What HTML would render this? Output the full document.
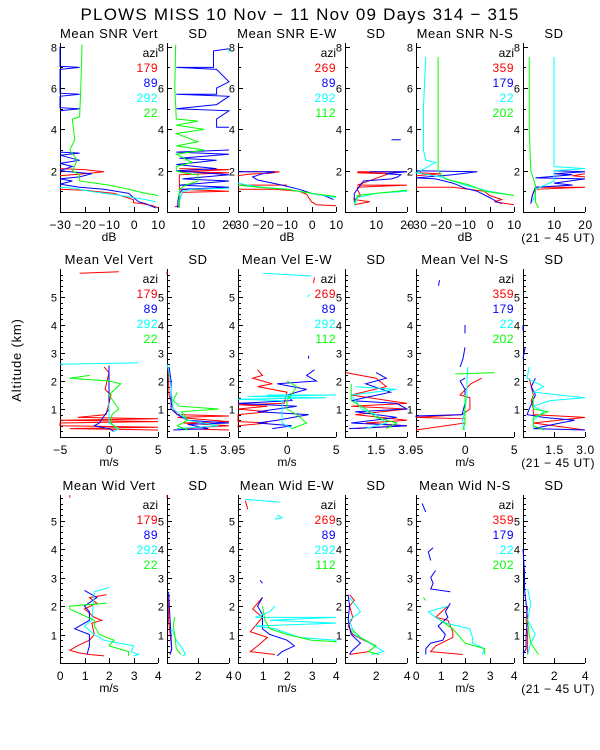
<!DOCTYPE html>
<html><head><meta charset="utf-8">
<style>
html,body{margin:0;padding:0;background:#fff;}
svg{display:block;font-family:"Liberation Sans",sans-serif;}
</style></head>
<body>
<svg id="chart" width="600" height="750" viewBox="0 0 600 750">
<text x="300" y="20" font-size="17" letter-spacing="1.2" text-anchor="middle">PLOWS MISS  10 Nov − 11 Nov 09 Days 314 − 315</text>
<text transform="translate(21,360) rotate(-90)" font-size="13" letter-spacing="0.8" text-anchor="middle">Altitude (km)</text>
</svg>
<script>
// ---- data: [altitude km, value]; null breaks a line ----
const colors = ["#ff0000","#0000ff","#00ffff","#00ff00"];
const legendVert = ["179","89","292","22"];
const legendEW = ["269","89","292","112"];
const legendNS = ["359","179","22","202"];
const meanTitles = [["Mean SNR Vert","Mean SNR E-W","Mean SNR N-S"],["Mean Vel Vert","Mean Vel E-W","Mean Vel N-S"],["Mean Wid Vert","Mean Wid E-W","Mean Wid N-S"]];
const meanTicks = [[-30,-20,-10,0,10],[-5,0,5],[0,1,2,3,4]];
const meanTickLabels = [["−30","−20","−10","0","10"],["−5","0","5"],["0","1","2","3","4"]];
const sdTicks = [[10,20],[1.5,3.0],[2,4]];
const sdTickLabels = [["10","20"],["1.5","3.0"],["2","4"]];
const yTicks = [[2,4,6,8],[1,2,3,4,5],[1,2,3,4,5]];
const units = ["dB","m/s","m/s"];

// Row 1 SNR
const snrV_r=[[2.1,-30],[2.05,-20],[1.95,-12],[1.85,-20],[1.75,-30],null,[1.1,-30],[1.05,-20],[0.9,-8],[0.6,0],[0.45,0],[0.4,4],[0.3,8],[0.2,10]];
const snrV_b=[[8,-30],[7.05,-30],[7.0,-22],[6.9,-30],[5.75,-30],[5.7,-22],[5.6,-30],[5.05,-30],[5.0,-22],[4.9,-30],null,[2.9,-30],[2.85,-22],[2.75,-30],[2.5,-22],[2.35,-30],[2.2,-25],[2.0,-30],[1.85,-17],[1.7,-22],[1.6,-30],[1.5,-25],[1.35,-30],[1.2,-22],[1.1,-12],[0.9,-2],[0.5,2],[0.4,5],[0.2,9]];
const snrV_c=[[1.2,-30],[1.15,-24],[1.0,-18],[0.8,-5],[0.6,5],[0.5,9]];
const snrV_g=[[8.1,-21],[6,-21.5],[4.6,-22],[4.5,-25],[3.5,-24],[3,-26],[2.5,-23],[2.0,-25],[1.8,-22],[1.5,-22],[1.3,-10],[1.1,-2],[0.9,5],[0.8,10]];
const sdV1_r=[[2.1,4],[2.05,20],[1.95,4],[1.9,20],[1.8,4],[1.1,4],[1.0,20],[0.95,5],[0.6,4],[0.3,4],[0.25,2.5]];
const sdV1_b=[[7.9,20],[7.8,15],[7.0,15],[7.0,3],[6.9,16],[6.3,20],[6.0,16],[5.7,16],[5.7,3],[5.6,20],[5.2,16],[5.0,3],[4.9,20],[4.5,16],[4.1,16],[4.1,20],null,[3.0,20],[2.9,3],[2.8,20],[2.6,4],[2.5,16],[2.3,3],[2.1,16],[2.0,3],[1.8,20],[1.6,5],[1.5,20],[1.3,4],[1.2,20],[1.1,5],[0.9,4],[0.5,3.5],[0.2,3.5]];
const sdV1_c=[[7.9,20],[7.7,20],null,[1.15,20],[1.1,8],[1.0,5],[0.5,4],[0.2,4]];
const sdV1_g=[[8.1,2.8],[6,2.5],[4.5,3],[4.4,10],[4.2,3],[4.0,12],[3.8,3],[3.4,10],[3.2,3],[3.0,12],[2.8,3],[2.4,8],[2.2,3],[2.0,3],[1.9,5],[1.8,10],[1.5,10],[1.3,6],[1.1,4],[0.8,4],[0.5,4],[0.2,4]];
const snrE_r=[[1.95,-30],[1.95,-13],[1.88,-17],[1.83,-26],[1.75,-30],null,[1.3,-30],[1.3,-10],null,[1.1,-30],[1.1,-15],[1.0,-5],[0.85,-2],[0.5,0],[0.35,2],[0.3,10]];
const snrE_b=[[1.95,-30],[1.95,-15],[1.85,-20],[1.7,-24],[1.55,-22],[1.3,-12],[1.1,-5],[0.9,0],[0.8,5],[0.6,9]];
const snrE_c=[[1.4,-30],[1.3,-26],[1.2,-20],[1.1,-10],[0.9,0],[0.8,5],[0.7,10]];
const snrE_g=[[1.3,-30],[1.2,-22],[1.1,-10],[0.9,0],[0.75,10]];
const sdE1_r=[[1.95,4],[1.95,20],[1.9,4],[1.85,14],[1.3,4],[1.3,20],[1.2,4],[1.1,4],[0.8,5],[0.6,3],[0.5,8],[0.35,3]];
const sdE1_b=[[3.5,15],[3.5,18],null,[1.95,8],[1.95,20],[1.85,13],[1.8,18],[1.7,17],[1.6,15],[1.5,6],[1.3,5],[1.1,4],[0.9,3],[0.5,3]];
const sdE1_c=[[1.0,20],[0.9,10],[0.7,4],[0.3,3]];
const sdE1_g=[[1.05,20],[0.9,10],[0.8,4],[0.4,3]];
const snrN_r=[[1.9,-30],[1.85,-20],[1.75,-30],null,[1.2,-30],[1.2,-15],[1.0,-2],[0.8,0],[0.6,5],[0.5,2],[0.35,10]];
const snrN_b=[[2.0,-30],[1.95,-5],[1.8,-15],[1.65,-30],[1.6,-22],[1.4,-15],[1.15,-10],[1.0,-5],[0.7,0],[0.5,3],[0.4,5]];
const snrN_c=[[7.5,-26],[5,-27],[3,-27],[2.5,-26],[2.4,-22],[2.0,-28],[1.9,-30],[1.7,-20],[1.3,-10],[1.0,0],[0.8,10]];
const snrN_g=[[7.5,-21],[2.0,-21],[1.6,-18],[1.3,-8],[1.0,-2],[0.8,10]];
const sdN1_r=[[1.85,20],[1.75,16],[1.7,20],null,[1.2,4],[1.2,20],[1.1,4],[0.8,3],[0.4,2.5]];
const sdN1_b=[[2.0,10],[1.95,20],[1.85,10],[1.8,16],[1.65,4],[1.6,20],[1.4,10],[1.3,16],[1.2,4],[0.8,3],[0.4,2.5]];
const sdN1_c=[[7.5,10],[3,10],[2.2,10],[2.1,20],[2.0,10],[1.5,10],[1.1,4],[0.9,4],[0.5,3]];
const sdN1_g=[[7.5,2],[4,2],[2.0,2.5],[1.3,4],[1.0,4],[0.5,4],[0.2,5]];
// Row 2 velocity
const velV_r=[[5.85,-3],[5.9,1],null,[2.5,-0.5],[2.3,0],[1.7,-0.4],[1.5,0.2],[0.8,-0.3],[0.7,-3.2],[0.65,5],[0.6,-5],[0.55,5],[0.5,-5],[0.4,-5],[0.35,5],[0.3,-4],[0.25,5]];
const velV_b=[[2.55,0],[1.5,0],[1.0,0],[0.5,-1],[0.4,-1.5],[0.3,0],[0.2,0.5]];
const velV_c=[[2.6,-5],[2.65,3],null,[1.2,0],[0.5,0],[0.3,1],[0.2,0.5]];
const velV_g=[[2.2,-2],[2.1,-4],[2.0,0],[1.9,1.2],[1.5,0],[1.0,1],[0.8,0.3],[0.5,0.2],[0.3,0.8]];
const sdV2_r=[[5.9,0],[5.8,0],null,[2.4,0.05],[1.5,0.1],[1.0,0.3],[0.8,0.5],[0.75,3.0],[0.7,0.5],[0.55,3],[0.5,0.8],[0.4,3],[0.3,0.5],[0.25,3]];
const sdV2_b=[[2.5,0.1],[2.0,0.2],[1.0,0.2],[0.8,0.5],[0.6,1],[0.5,3],[0.45,1],[0.3,2],[0.25,0.3]];
const sdV2_c=[[2.6,0],[2.3,0.1],[1.0,0.3],[0.6,1],[0.4,2.5],[0.3,0.5]];
const sdV2_g=[[1.6,0.5],[1.3,0.3],[1.1,0.6],[1.0,2.5],[0.9,0.7],[0.6,1],[0.4,0.5],[0.25,1]];
const velE_r=[[5.7,2.8],[5.5,2.7],null,[2.4,-3],[2.2,-2.5],[2.1,-3.5],[1.9,-1.5],[1.8,-3],[1.6,0],[1.2,-0.3],[1.15,-5],[1.1,-2],[1.0,-5],[0.9,-2],[0.8,-5],[0.55,-5],[0.5,-2],[0.4,-5],[0.35,-5]];
const velE_b=[[2.9,2.2],[2.8,2.2],null,[2.4,2.8],[2.2,2],[2.0,3],[1.9,-1],[1.7,2],[1.5,0],[1.3,0.5],[1.2,-5],[1.1,1],[0.9,-3],[0.8,2.2],[0.6,-1],[0.5,-3],[0.4,0.5],[0.3,-1.5]];
const velE_c=[[5.85,-2.4],[5.75,2.5],null,[5.1,2.3],[5.0,2.1],null,[1.5,-2],[1.5,5],[1.45,-4],[1.4,4],[1.35,-5],[1.3,-0.5],[0.9,-0.5],[0.5,-0.5],[0.3,0.5]];
const velE_g=[[2.0,0],[1.8,1],[1.3,0],[1.0,0],[0.8,1],[0.5,2],[0.3,0.5]];
const sdE2_r=[[2.3,0.05],[2.1,1.5],[1.8,2.0],[1.5,0.3],[1.2,3],[1.1,0.3],[1.0,3],[0.8,0.5],[0.6,3],[0.5,1],[0.4,3],[0.3,0.5]];
const sdE2_b=[[2.3,1.5],[2.1,2],[1.9,1],[1.6,2.2],[1.3,0.3],[1.2,2.5],[1.0,3],[0.9,0.5],[0.7,2.5],[0.5,0.3],[0.4,3],[0.3,0.2]];
const sdE2_c=[[1.8,0.5],[1.7,2.5],[1.5,0.3],[1.3,0.5],[1.0,0.8],[0.8,1.5],[0.5,2],[0.3,1]];
const sdE2_g=[[1.9,0.3],[1.3,0.3],[1.0,1],[0.7,1.5],[0.5,2.5],[0.3,2]];
const velN_r=[[2.1,1.7],[1.9,0.6],[1.5,-0.5],[1.4,0.5],[1.0,0.5],[0.8,-0.3],[0.7,-5],[0.65,0],[0.5,0],[0.25,-5]];
const velN_b=[[5.6,-2.6],[5.4,-2.7],null,[4.0,0],[3.7,0],null,[3.2,0],[2.8,-0.2],[2.5,-0.5],null,[2.1,0],[2.0,-0.5],[1.7,0],[1.2,0],[0.8,-0.3],[0.75,-5],[0.7,-5]];
const velN_c=[[2.5,0.3],[2.0,0.2],[1.5,0.2],[1.0,0],[0.5,-0.3],[0.25,0]];
const velN_g=[[2.25,-1],[2.3,3],null,[1.5,0],[1.0,0],[0.5,0],[0.25,-0.2]];
const sdN2_r=[[2.1,0.3],[1.5,0.5],[1.3,0.4],[1.0,0.5],[0.8,0.5],[0.7,3],[0.5,0.5],[0.25,3]];
const sdN2_b=[[4.0,0],[3.8,0],null,[3.2,0.1],[2.8,0],null,[2.1,0.6],[1.8,0.4],[1.5,0.6],[1.0,0.3],[0.8,0.2],[0.7,1.0],[0.6,2.5],[0.5,1.8],[0.3,0.5],[0.25,3]];
const sdN2_c=[[2.5,0.3],[2.1,0.2],[1.8,1.0],[1.6,0.5],[1.4,3],[1.3,1.3],[1.1,0.5],[0.9,1],[0.6,0.5],[0.3,0.5]];
const sdN2_g=[[1.5,0.5],[1.0,0.5],[0.9,1.2],[0.7,0.5],[0.4,0.5],[0.25,1]];
// Row 3 width
const widV_r=[[5.9,0.4],[5.8,0.4],null,[2.4,1.9],[2.3,1.2],[2.1,1.5],[1.9,1.0],[1.6,1.4],[1.5,1.7],[1.4,1.3],[1.0,1.4],[0.8,1.2],[0.6,0.7],[0.45,0.4],[0.35,0.8],[0.3,1.2],[0.25,1.8]];
const widV_b=[[2.55,1.0],[2.3,1.5],[2.0,1.0],[1.8,1.2],[1.5,1.2],[1.2,0.6],[1.0,1.2],[0.6,1.2],[0.3,1.1]];
const widV_c=[[2.65,2.0],[2.5,1.4],[1.5,1.3],[1.3,1.0],[1.0,1.4],[0.8,1.8],[0.6,3.0],[0.4,2.9],[0.3,3.2],[0.25,3.0]];
const widV_g=[[2.1,1.9],[2.0,0.4],[1.9,0.4],[1.5,1.4],[1.3,1.4],[1.0,1.6],[0.8,2.2],[0.6,2.0],[0.4,2.8],[0.25,2.8]];
const sdV3_r=[[5.9,0],[5.8,0],null,[2.4,0.1],[1.5,0.1],[1.0,0.2],[0.5,0.3],[0.3,0.2]];
const sdV3_b=[[2.5,0.1],[1.5,0.2],[0.5,0.3],[0.3,0.2]];
const sdV3_c=[[1.2,0.3],[0.8,0.6],[0.5,1.0],[0.3,1.2],[0.25,1.0]];
const sdV3_g=[[1.6,0.5],[1.3,0.4],[1.0,0.5],[0.5,0.6],[0.3,0.9]];
const widE_r=[[5.7,0.3],[5.4,0.4],null,[2.3,1.0],[1.9,0.6],[1.6,1.0],[1.4,0.8],[1.1,0.5],[0.9,1.2],[0.6,0.8],[0.4,0.5],[0.3,1.5]];
const widE_b=[[2.9,0.9],[2.8,1.0],null,[2.3,1.0],[2.0,0.8],[1.7,1.0],[1.5,1.0],[1.2,1.0],[1.0,1.3],[0.8,2.0],[0.6,2.3],[0.4,1.8],[0.25,1.6]];
const widE_c=[[5.75,0.3],[5.65,1.7],null,[5.2,1.6],[5.1,1.8],[5.05,1.5],null,[2.0,1.5],[1.8,1.3],[1.6,0.7],[1.6,4],[1.5,1.3],[1.4,4],[1.3,0.7],[1.2,1.5],[0.9,2.5],[0.8,4],[0.7,4]];
const widE_g=[[2.0,1.0],[1.5,1.1],[1.2,1.3],[1.0,2],[0.8,3],[0.75,4]];
const sdE3_r=[[2.4,0.3],[2.2,0.6],[2.0,0.3],[1.6,0.5],[1.3,0.2],[1.0,0.5],[0.8,1.2],[0.6,2.0],[0.4,1.5],[0.3,0.3]];
const sdE3_b=[[2.4,0.2],[2.0,0.3],[1.5,0.2],[1.0,0.4],[0.7,1.0],[0.4,0.4],[0.3,0.3]];
const sdE3_c=[[2.3,0.3],[1.8,1.0],[1.5,0.3],[1.0,0.6],[0.7,1.6],[0.4,2.5],[0.3,1.7]];
const sdE3_g=[[1.2,0.4],[0.9,1.0],[0.6,2.0],[0.4,1.5],[0.3,2.2]];
const widN_r=[[2.0,1.3],[1.6,0.8],[1.5,1.3],[1.1,1.5],[0.9,1.5],[0.6,0.8],[0.4,0.6],[0.3,1.9]];
const widN_b=[[5.6,0.25],[5.3,0.4],null,[4.05,0.7],[3.9,0.5],[3.6,0.6],null,[3.25,0.8],[3.0,0.6],[2.8,0.7],[2.6,0.6],[2.5,1.4],null,[2.1,1.4],[1.8,1.2],[1.6,1.3],[1.3,0.9],[1.0,1.2],[0.8,1.1],[0.7,0.6],[0.5,0.4],[0.3,0.4]];
const widN_c=[[2.0,1.3],[1.8,0.5],[1.6,0.8],[1.4,1.2],[1.2,2.2],[0.9,2.3],[0.7,2.3],[0.5,2.8],[0.3,2.7]];
const widN_g=[[2.3,0.3],[2.2,0.4],null,[1.5,1.0],[1.2,1.5],[0.9,1.8],[0.7,2.0],[0.5,2.8],[0.3,2.8]];
const sdN3_r=[[2.0,0.3],[1.5,0.2],[1.0,0.3],[0.5,0.3],[0.3,0.3]];
const sdN3_b=[[4.0,0],[3.2,0.1],[2.6,0.1],[2.1,0.2],[1.5,0.3],[1.0,0.2],[0.5,0.2],[0.3,0]];
const sdN3_c=[[2.6,0.3],[2.1,0.5],[1.5,0.3],[1.0,0.8],[0.7,0.5],[0.3,0.3]];
const sdN3_g=[[1.5,0.3],[1.0,0.4],[0.7,0.5],[0.3,1.0]];

const rowSeries=[
 [[snrV_r,snrV_b,snrV_c,snrV_g],[sdV1_r,sdV1_b,sdV1_c,sdV1_g],[snrE_r,snrE_b,snrE_c,snrE_g],[sdE1_r,sdE1_b,sdE1_c,sdE1_g],[snrN_r,snrN_b,snrN_c,snrN_g],[sdN1_r,sdN1_b,sdN1_c,sdN1_g]],
 [[velV_r,velV_b,velV_c,velV_g],[sdV2_r,sdV2_b,sdV2_c,sdV2_g],[velE_r,velE_b,velE_c,velE_g],[sdE2_r,sdE2_b,sdE2_c,sdE2_g],[velN_r,velN_b,velN_c,velN_g],[sdN2_r,sdN2_b,sdN2_c,sdN2_g]],
 [[widV_r,widV_b,widV_c,widV_g],[sdV3_r,sdV3_b,sdV3_c,sdV3_g],[widE_r,widE_b,widE_c,widE_g],[sdE3_r,sdE3_b,sdE3_c,sdE3_g],[widN_r,widN_b,widN_c,widN_g],[sdN3_r,sdN3_b,sdN3_c,sdN3_g]]
];
const legends=[legendVert,legendEW,legendNS];

// ---- layout ----
const NS="http://www.w3.org/2000/svg";
const svg=document.getElementById('chart');
const rows=[{top:43,bot:212,ymax:8.18,minor:[1,3,5,7],xd:[-30,10],sd:[0,20]},
            {top:269,bot:437,ymax:6.0,minor:null,xd:[-5,5],sd:[0,3]},
            {top:495,bot:663,ymax:5.9,minor:null,xd:[0,4],sd:[0,4]}];
const groupX=[60,238,416];
function el(tag,attrs,text){const e=document.createElementNS(NS,tag);for(const k in attrs)e.setAttribute(k,attrs[k]);if(text!==undefined)e.textContent=text;svg.appendChild(e);return e;}

rows.forEach((row,ri)=>{
  const yS=a=>row.bot-(a/row.ymax)*(row.bot-row.top);
  const minors=row.minor||Array.from({length:Math.floor(row.ymax/0.2)},(_,i)=>+(0.2*(i+1)).toFixed(1)).filter(v=>Math.abs(v-Math.round(v))>0.01);
  for(let g=0;g<3;g++){
    for(let p=0;p<2;p++){
      const x0=p===0?groupX[g]:groupX[g]+107, w=p===0?98:62;
      const dom=p===0?row.xd:row.sd;
      const xS=v=>x0+(v-dom[0])/(dom[1]-dom[0])*w;
      const ax=el('path',{d:`M${x0+.5},${row.top}V${row.bot+.5}H${x0+w}`,stroke:'#000',fill:'none','stroke-width':1});
      
      
      yTicks[ri].forEach(t=>{const y=Math.round(yS(t))+.5;
        el('path',{d:`M${x0},${y}h5`,stroke:'#000'});
        const tl=el('text',{x:x0-3,y:y+4,'font-size':11,'text-anchor':'end'},String(t));
        
        
      });
      minors.forEach(t=>{const y=Math.round(yS(t))+.5;el('path',{d:`M${x0},${y}h3`,stroke:'#000'});});
      const xt=p===0?meanTicks[ri]:sdTicks[ri], xl=p===0?meanTickLabels[ri]:sdTickLabels[ri];
      xt.forEach((t,i)=>{const x=Math.round(xS(t))+.5;
        el('path',{d:`M${x},${row.bot}v-5`,stroke:'#000'});
        const tl=el('text',{x:x,y:row.bot+17,'font-size':12,'letter-spacing':0.6,'text-anchor':'middle'},xl[i]);
        
        
      });
      const ti=el('text',{x:x0+w/2,y:row.top-5,'font-size':13,'letter-spacing':0.6,'text-anchor':'middle'},p===0?meanTitles[ri][g]:'SD');
      
      
      if(p===0){
        const u=el('text',{x:x0+w/2,y:row.bot+29,'font-size':12,'text-anchor':'middle'},units[ri]);
        
        
        const lt=el('text',{x:x0+w,y:row.top+14,'font-size':12,'text-anchor':'end'},'azi');
        
        
        legends[g].forEach((lab,i)=>{
          const le=el('text',{x:x0+w,y:row.top+29+15*i,'font-size':12,'letter-spacing':0.5,'text-anchor':'end',fill:colors[i]},lab);
          
          
        });
      } else if(g===2){
        const ut=el('text',{x:595,y:row.bot+30,'font-size':12,'letter-spacing':0.5,'text-anchor':'end'},'(21 − 45 UT)');
        
        
      }
      rowSeries[ri][g*2+p].forEach((ser,si)=>{
        let d='',pen=false;
        ser.forEach(pt=>{if(!pt){pen=false;return;}
          const X=Math.max(x0,Math.min(x0+w,xS(pt[1]))).toFixed(1), Y=yS(pt[0]).toFixed(1);
          d+=(pen?'L':'M')+X+','+Y;pen=true;});
        const ln=el('path',{d:d,stroke:colors[si],fill:'none','stroke-width':1});
        
        
      });
    }
  }
});
</script>
</body></html>
